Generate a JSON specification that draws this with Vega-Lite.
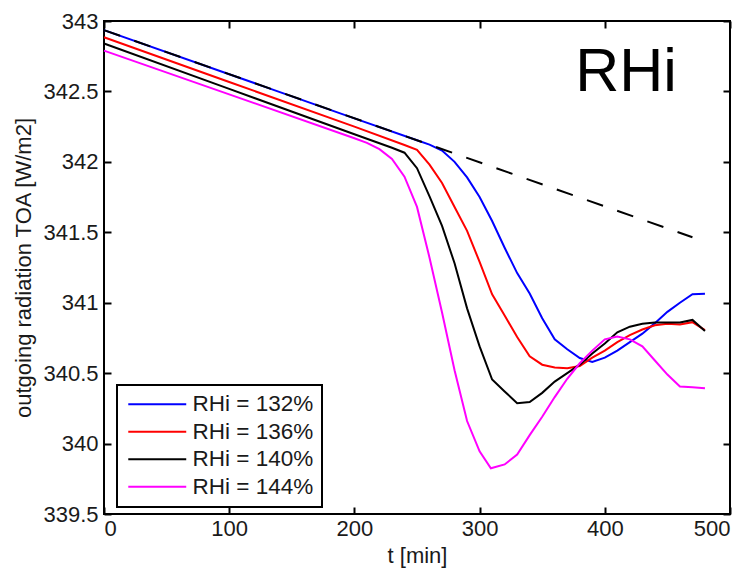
{
  "$schema": "https://vega.github.io/schema/vega-lite/v6.json",
  "width": 626,
  "height": 493,
  "autosize": {"type": "none"},
  "padding": {"left": 104, "top": 21, "right": 22, "bottom": 59},
  "background": "white",
  "config": {
    "font": "Liberation Sans",
    "view": {"stroke": "black", "strokeWidth": 2},
    "axis": {
      "domain": false,
      "grid": false,
      "tickColor": "black",
      "tickWidth": 2,
      "tickSize": -7,
      "labelFontSize": 22,
      "labelColor": "#1a1a1a",
      "titleFontSize": 22,
      "titleFontWeight": "normal",
      "titleColor": "#1a1a1a"
    },
    "legend": {
      "orient": "none",
      "legendX": 13,
      "legendY": 364,
      "strokeColor": "black",
      "strokeWidth": 2,
      "fillColor": "white",
      "padding": 8,
      "symbolType": "M-4,0H4",
      "symbolSize": 210,
      "symbolStrokeWidth": 2,
      "symbolOffset": 21,
      "labelFontSize": 22.5,
      "labelColor": "#1a1a1a",
      "labelOffset": 24,
      "rowPadding": 4.5
    }
  },
  "datasets": {
    "lines": [
      {"t": 0, "v": 342.935, "s": "RHi = 132%"},
      {"t": 100, "v": 342.622, "s": "RHi = 132%"},
      {"t": 200, "v": 342.309, "s": "RHi = 132%"},
      {"t": 250, "v": 342.153, "s": "RHi = 132%"},
      {"t": 260, "v": 342.122, "s": "RHi = 132%"},
      {"t": 270, "v": 342.08, "s": "RHi = 132%"},
      {"t": 280, "v": 342.0, "s": "RHi = 132%"},
      {"t": 290, "v": 341.89, "s": "RHi = 132%"},
      {"t": 300, "v": 341.75, "s": "RHi = 132%"},
      {"t": 310, "v": 341.58, "s": "RHi = 132%"},
      {"t": 320, "v": 341.39, "s": "RHi = 132%"},
      {"t": 330, "v": 341.21, "s": "RHi = 132%"},
      {"t": 340, "v": 341.065, "s": "RHi = 132%"},
      {"t": 350, "v": 340.89, "s": "RHi = 132%"},
      {"t": 360, "v": 340.74, "s": "RHi = 132%"},
      {"t": 370, "v": 340.67, "s": "RHi = 132%"},
      {"t": 380, "v": 340.607, "s": "RHi = 132%"},
      {"t": 390, "v": 340.58, "s": "RHi = 132%"},
      {"t": 400, "v": 340.61, "s": "RHi = 132%"},
      {"t": 410, "v": 340.66, "s": "RHi = 132%"},
      {"t": 420, "v": 340.72, "s": "RHi = 132%"},
      {"t": 430, "v": 340.78, "s": "RHi = 132%"},
      {"t": 440, "v": 340.855, "s": "RHi = 132%"},
      {"t": 450, "v": 340.935, "s": "RHi = 132%"},
      {"t": 460, "v": 341.0, "s": "RHi = 132%"},
      {"t": 470, "v": 341.06, "s": "RHi = 132%"},
      {"t": 480, "v": 341.063, "s": "RHi = 132%"},

      {"t": 0, "v": 342.885, "s": "RHi = 136%"},
      {"t": 100, "v": 342.567, "s": "RHi = 136%"},
      {"t": 200, "v": 342.25, "s": "RHi = 136%"},
      {"t": 240, "v": 342.12, "s": "RHi = 136%"},
      {"t": 250, "v": 342.085, "s": "RHi = 136%"},
      {"t": 260, "v": 341.98, "s": "RHi = 136%"},
      {"t": 270, "v": 341.85, "s": "RHi = 136%"},
      {"t": 280, "v": 341.68, "s": "RHi = 136%"},
      {"t": 290, "v": 341.51, "s": "RHi = 136%"},
      {"t": 300, "v": 341.29, "s": "RHi = 136%"},
      {"t": 310, "v": 341.06, "s": "RHi = 136%"},
      {"t": 320, "v": 340.91, "s": "RHi = 136%"},
      {"t": 330, "v": 340.756, "s": "RHi = 136%"},
      {"t": 340, "v": 340.62, "s": "RHi = 136%"},
      {"t": 350, "v": 340.56, "s": "RHi = 136%"},
      {"t": 360, "v": 340.54, "s": "RHi = 136%"},
      {"t": 370, "v": 340.535, "s": "RHi = 136%"},
      {"t": 380, "v": 340.55, "s": "RHi = 136%"},
      {"t": 390, "v": 340.61, "s": "RHi = 136%"},
      {"t": 400, "v": 340.66, "s": "RHi = 136%"},
      {"t": 410, "v": 340.72, "s": "RHi = 136%"},
      {"t": 420, "v": 340.77, "s": "RHi = 136%"},
      {"t": 430, "v": 340.81, "s": "RHi = 136%"},
      {"t": 440, "v": 340.84, "s": "RHi = 136%"},
      {"t": 450, "v": 340.85, "s": "RHi = 136%"},
      {"t": 460, "v": 340.845, "s": "RHi = 136%"},
      {"t": 470, "v": 340.862, "s": "RHi = 136%"},
      {"t": 480, "v": 340.805, "s": "RHi = 136%"},

      {"t": 0, "v": 342.84, "s": "RHi = 140%"},
      {"t": 100, "v": 342.518, "s": "RHi = 140%"},
      {"t": 200, "v": 342.196, "s": "RHi = 140%"},
      {"t": 230, "v": 342.1, "s": "RHi = 140%"},
      {"t": 240, "v": 342.065, "s": "RHi = 140%"},
      {"t": 250, "v": 341.955, "s": "RHi = 140%"},
      {"t": 260, "v": 341.755, "s": "RHi = 140%"},
      {"t": 270, "v": 341.545, "s": "RHi = 140%"},
      {"t": 280, "v": 341.28, "s": "RHi = 140%"},
      {"t": 290, "v": 340.96, "s": "RHi = 140%"},
      {"t": 300, "v": 340.69, "s": "RHi = 140%"},
      {"t": 310, "v": 340.455, "s": "RHi = 140%"},
      {"t": 320, "v": 340.37, "s": "RHi = 140%"},
      {"t": 330, "v": 340.287, "s": "RHi = 140%"},
      {"t": 340, "v": 340.295, "s": "RHi = 140%"},
      {"t": 350, "v": 340.36, "s": "RHi = 140%"},
      {"t": 360, "v": 340.44, "s": "RHi = 140%"},
      {"t": 370, "v": 340.5, "s": "RHi = 140%"},
      {"t": 380, "v": 340.56, "s": "RHi = 140%"},
      {"t": 390, "v": 340.64, "s": "RHi = 140%"},
      {"t": 400, "v": 340.71, "s": "RHi = 140%"},
      {"t": 410, "v": 340.79, "s": "RHi = 140%"},
      {"t": 420, "v": 340.83, "s": "RHi = 140%"},
      {"t": 430, "v": 340.85, "s": "RHi = 140%"},
      {"t": 440, "v": 340.86, "s": "RHi = 140%"},
      {"t": 450, "v": 340.86, "s": "RHi = 140%"},
      {"t": 460, "v": 340.86, "s": "RHi = 140%"},
      {"t": 470, "v": 340.878, "s": "RHi = 140%"},
      {"t": 480, "v": 340.8, "s": "RHi = 140%"},

      {"t": 0, "v": 342.79, "s": "RHi = 144%"},
      {"t": 100, "v": 342.479, "s": "RHi = 144%"},
      {"t": 200, "v": 342.168, "s": "RHi = 144%"},
      {"t": 210, "v": 342.135, "s": "RHi = 144%"},
      {"t": 220, "v": 342.09, "s": "RHi = 144%"},
      {"t": 230, "v": 342.02, "s": "RHi = 144%"},
      {"t": 240, "v": 341.895, "s": "RHi = 144%"},
      {"t": 250, "v": 341.68, "s": "RHi = 144%"},
      {"t": 260, "v": 341.32, "s": "RHi = 144%"},
      {"t": 270, "v": 340.93, "s": "RHi = 144%"},
      {"t": 280, "v": 340.52, "s": "RHi = 144%"},
      {"t": 290, "v": 340.16, "s": "RHi = 144%"},
      {"t": 300, "v": 339.945, "s": "RHi = 144%"},
      {"t": 309, "v": 339.825, "s": "RHi = 144%"},
      {"t": 320, "v": 339.852, "s": "RHi = 144%"},
      {"t": 330, "v": 339.922, "s": "RHi = 144%"},
      {"t": 340, "v": 340.06, "s": "RHi = 144%"},
      {"t": 350, "v": 340.19, "s": "RHi = 144%"},
      {"t": 360, "v": 340.33, "s": "RHi = 144%"},
      {"t": 370, "v": 340.46, "s": "RHi = 144%"},
      {"t": 380, "v": 340.57, "s": "RHi = 144%"},
      {"t": 390, "v": 340.66, "s": "RHi = 144%"},
      {"t": 400, "v": 340.74, "s": "RHi = 144%"},
      {"t": 410, "v": 340.76, "s": "RHi = 144%"},
      {"t": 420, "v": 340.74, "s": "RHi = 144%"},
      {"t": 430, "v": 340.69, "s": "RHi = 144%"},
      {"t": 440, "v": 340.59, "s": "RHi = 144%"},
      {"t": 450, "v": 340.49, "s": "RHi = 144%"},
      {"t": 460, "v": 340.405, "s": "RHi = 144%"},
      {"t": 470, "v": 340.4, "s": "RHi = 144%"},
      {"t": 480, "v": 340.393, "s": "RHi = 144%"}
    ],
    "ref": [
      {"t": 0, "v": 342.935},
      {"t": 470, "v": 341.465}
    ],
    "label": [
      {"t": 417, "v": 342.5, "txt": "RHi"}
    ]
  },
  "layer": [
    {
      "data": {"name": "lines"},
      "mark": {"type": "line", "strokeWidth": 2},
      "encoding": {
        "x": {
          "field": "t", "type": "quantitative",
          "scale": {"domain": [0, 500], "nice": false, "zero": false},
          "axis": {"orient": "bottom", "values": [0, 100, 200, 300, 400, 500], "title": "t [min]", "labelPadding": 11, "titlePadding": 6}
        },
        "y": {
          "field": "v", "type": "quantitative",
          "scale": {"domain": [339.5, 343], "nice": false, "zero": false},
          "axis": {"orient": "left", "values": [339.5, 340, 340.5, 341, 341.5, 342, 342.5, 343], "format": "~f", "title": "outgoing radiation TOA [W/m2]", "labelPadding": 13, "titlePadding": 7}
        },
        "color": {
          "field": "s", "type": "nominal",
          "scale": {"domain": ["RHi = 132%", "RHi = 136%", "RHi = 140%", "RHi = 144%"], "range": ["#0000ff", "#ff0000", "#000000", "#ff00ff"]},
          "legend": {"title": null}
        }
      }
    },
    {
      "data": {"name": "ref"},
      "mark": {"type": "line", "color": "black", "strokeWidth": 2, "strokeDash": [17, 15]},
      "encoding": {
        "x": {
          "field": "t", "type": "quantitative",
          "axis": {"orient": "top", "values": [0, 100, 200, 300, 400, 500], "labels": false, "title": null}
        },
        "y": {
          "field": "v", "type": "quantitative",
          "axis": {"orient": "right", "values": [339.5, 340, 340.5, 341, 341.5, 342, 342.5, 343], "labels": false, "title": null}
        }
      }
    },
    {
      "data": {"name": "label"},
      "mark": {"type": "text", "fontSize": 61, "align": "center", "baseline": "alphabetic", "color": "black"},
      "encoding": {
        "x": {"field": "t", "type": "quantitative", "axis": null},
        "y": {"field": "v", "type": "quantitative", "axis": null},
        "text": {"field": "txt"}
      }
    }
  ],
  "resolve": {"axis": {"x": "independent", "y": "independent"}}
}
